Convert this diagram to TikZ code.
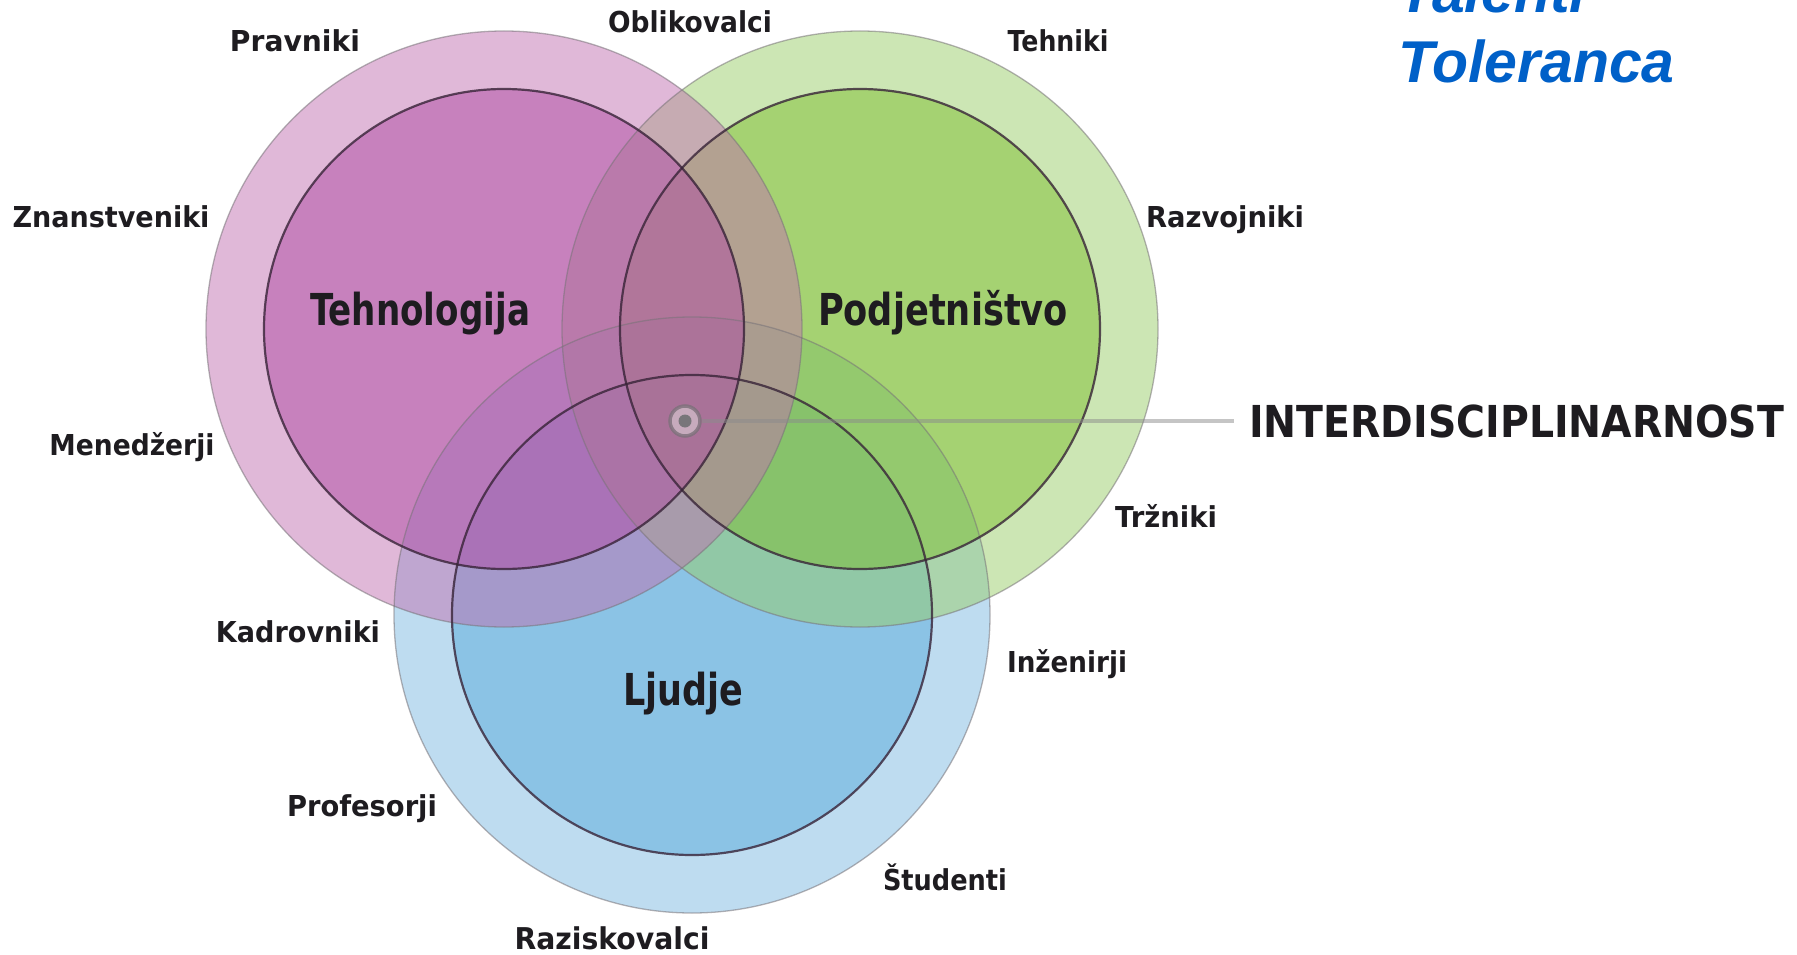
\documentclass[tikz,border=0pt]{standalone}
\usepackage{fontspec}
\setmainfont{DejaVu Sans}
\newfontfamily\arialfont{Liberation Sans}
\definecolor{magO}{RGB}{193,113,177}
\definecolor{magI}{RGB}{176,76,164}
\definecolor{greO}{RGB}{153,205,105}
\definecolor{greI}{RGB}{126,190,50}
\definecolor{bluO}{RGB}{125,185,225}
\definecolor{bluI}{RGB}{90,170,220}
\definecolor{rimI}{RGB}{55,35,55}
\definecolor{rimO}{RGB}{120,115,120}
\definecolor{labcol}{RGB}{30,28,32}
\definecolor{tolcol}{RGB}{0,96,200}
\definecolor{mkring}{RGB}{125,112,122}
\definecolor{mkfill}{RGB}{212,196,206}
\definecolor{mkdot}{RGB}{120,118,122}
\definecolor{conncol}{RGB}{140,140,140}
\newcommand{\fitw}[2]{\resizebox{#1pt}{\height}{#2}}
\begin{document}
\begin{tikzpicture}[x=1pt,y=-1pt,
  disc/.style={circle, inner sep=0pt, outer sep=0pt, draw=none, fill opacity=0.5},
  outerdisc/.style={disc, minimum size=596pt},
  innerdisc/.style={disc, minimum size=480pt},
  outerrim/.style={draw=rimO, draw opacity=0.55, line width=1.3pt},
  innerrim/.style={draw=rimI, draw opacity=0.8, line width=2.2pt},
  lab/.style={anchor=base, inner sep=0pt, text=labcol, font=\bfseries\fontsize{28.8}{30}\selectfont},
  biglab/.style={lab, font=\bfseries\fontsize{44}{48}\selectfont},
  talent/.style={anchor=base west, inner sep=0pt, text=tolcol, font=\arialfont\bfseries\itshape\fontsize{59}{62}\selectfont},
  conn/.style={draw=conncol, draw opacity=0.5, line width=4pt}]
\useasboundingbox (0,0) rectangle (1797,955);
\clip (0,0) rectangle (1797,955);

% fills: blue, green, magenta
\node[outerdisc, fill=bluO] (bO) at (692,615) {};
\node[innerdisc, fill=bluI] (bI) at (692,615) {};
\node[outerdisc, fill=greO] (gO) at (860,329) {};
\node[innerdisc, fill=greI] (gI) at (860,329) {};
\node[outerdisc, fill=magO] (mO) at (504,329) {};
\node[innerdisc, fill=magI] (mI) at (504,329) {};

% outlines
\foreach \c in {bO,gO,mO} \draw[outerrim] (\c.center) circle[radius=298];
\foreach \c in {bI,gI,mI} \draw[innerrim] (\c.center) circle[radius=240];

% centre marker and connector
\node[circle, minimum size=30pt, inner sep=0pt, draw=mkring, line width=3.5pt, fill=mkfill, fill opacity=0.7, draw opacity=0.8] (ctr) at (685,421) {};
\node[circle, minimum size=13pt, inner sep=0pt, fill=mkdot] (dot) at (ctr.center) {};
\node[biglab, anchor=base west] (intl) at (1249,437) {\fitw{535}{INTERDISCIPLINARNOST}};
\draw[conn] (ctr.east) -- (ctr.east -| intl.west) [shorten >=15pt];

% set labels
\node[biglab] (tech) at (420,325) {\fitw{220}{Tehnologija}};
\node[biglab] (podj) at (943,325) {\fitw{250}{Podjetništvo}};
\node[biglab] (ljud) at (683,705) {\fitw{120}{Ljudje}};

% outer labels
\node[lab] (pra) at (295,52) {\fitw{130}{Pravniki}};
\node[lab] (obl) at (690,33) {\fitw{164}{Oblikovalci}};
\node[lab] (teh) at (1058,52) {\fitw{101}{Tehniki}};
\node[lab] (zna) at (111,228) {\fitw{197}{Znanstveniki}};
\node[lab] (raz) at (1225,228) {\fitw{158}{Razvojniki}};
\node[lab] (men) at (132,455) {\fitw{165}{Menedžerji}};
\node[lab] (trz) at (1166,527) {\fitw{102}{Tržniki}};
\node[lab] (kad) at (298,642) {\fitw{164}{Kadrovniki}};
\node[lab] (inz) at (1067,672) {\fitw{120}{Inženirji}};
\node[lab] (pro) at (362,816) {\fitw{150}{Profesorji}};
\node[lab] (stu) at (945,890) {\fitw{124}{Študenti}};
\node[lab, font=\bfseries\fontsize{30}{32}\selectfont] (rzk) at (612,949) {\fitw{195}{Raziskovalci}};

% top right words
\node[talent] (tal) at (1398,13) {Talenti};
\node[talent] (tol) at (1398,83) {Toleranca};
\end{tikzpicture}
\end{document}
